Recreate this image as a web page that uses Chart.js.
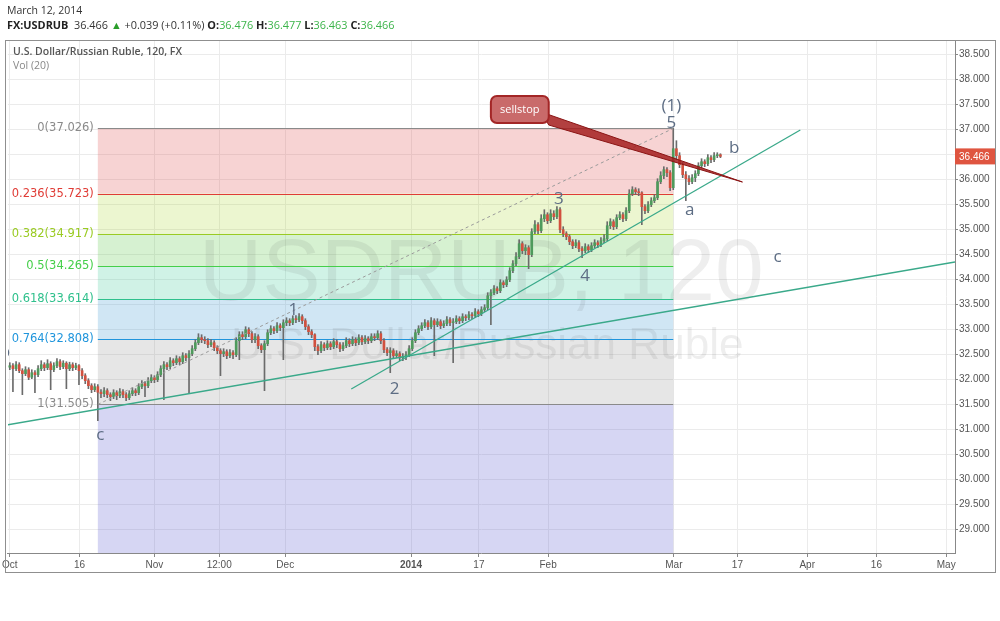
<!DOCTYPE html>
<html><head><meta charset="utf-8">
<script src="https://cdn.jsdelivr.net/npm/chart.js@4.4.1/dist/chart.umd.min.js"></script>
<style>
html,body{margin:0;padding:0;background:#fff;}
#wrap{position:relative;width:1000px;height:621px;overflow:hidden;}
#c{position:absolute;left:0;top:0;}
.hdr{position:absolute;left:7px;font-family:'Open Sans',sans-serif;font-size:10.5px;color:#333;white-space:nowrap;line-height:14px;}
.hdr b{font-weight:700;color:#222;}
.g{color:#3cb44a;}
</style></head><body>
<div id="wrap">
<canvas id="c" width="1000" height="621"></canvas>
<div class="hdr" style="top:3px">March 12, 2014</div>
<div class="hdr" style="top:18px;font-size:10.9px"><b>FX:USDRUB</b>&nbsp; 36.466 <span style="color:#2a9d2a">&#9650;</span> +0.039 (+0.11%) <b>O:</b><span class="g">36.476</span> <b>H:</b><span class="g">36.477</span> <b>L:</b><span class="g">36.463</span> <b>C:</b><span class="g">36.466</span></div>
</div>
<script>
// ---- data (bars of half a trading day, starting Oct 1 2013) ----
const firstOpen = 32.25;
const closes = [
32.28,32.22,32.30,32.18,32.12,32.20,32.05,32.14,32.10,32.22,
32.30,32.24,32.32,32.20,32.28,32.36,32.26,32.33,32.22,32.30,
32.24,32.28,32.18,32.08,31.98,31.88,31.80,31.86,
31.75,31.72,31.78,31.70,31.66,31.74,31.68,31.76,31.70,31.64,31.72,31.78,31.74,
31.86,31.92,31.88,31.98,32.04,32.00,32.10,
32.22,32.30,32.26,32.38,32.34,
32.42,32.36,32.48,32.44,32.52,
32.62,32.74,32.84,32.80,
32.78,32.70,32.74,32.64,
32.58,32.52,32.56,32.48,32.54,32.50,
32.78,32.90,32.86,33.00,
32.92,32.80,32.86,32.68,32.60,32.72,
32.94,33.02,32.98,33.08,33.04,33.14,
33.18,33.14,33.22,33.20,33.26,33.18,
33.06,32.96,32.90,
32.66,32.58,32.70,
32.64,32.72,32.66,32.76,32.70,32.62,32.68,32.78,32.72,32.80,32.74,32.84,32.76,32.82,32.78,32.86,32.84,32.92,
32.78,32.60,32.54,32.58,32.48,32.52,32.44,
32.46,32.50,32.62,
32.78,32.94,33.02,
33.08,33.14,33.06,33.18,33.10,33.16,33.08,33.12,33.20,33.14,
33.16,33.22,33.18,33.26,33.24,33.30,33.28,33.36,33.32,33.40,33.44,
33.68,33.74,33.82,33.78,
33.94,33.90,34.00,
34.18,34.32,34.46,
34.72,34.58,34.64,34.50,
34.96,35.10,34.98,35.22,35.30,
35.18,35.32,35.26,35.40,
35.00,34.92,34.86,
34.76,34.68,34.74,34.62,34.58,34.66,34.60,
34.68,34.74,34.70,34.78,34.82,
35.08,35.16,35.06,
35.24,35.30,35.22,35.38,
35.72,35.80,35.76,35.74,
35.46,35.38,
35.50,35.58,35.64,
35.96,36.08,36.20,36.14,
35.84,
36.62,
36.48,36.30,
36.10,36.02,35.96,36.04,36.12,
36.28,36.36,36.32,
36.44,36.40,36.48,36.50,36.466];
const highs = [
32.34,32.32,32.36,32.34,32.22,32.26,32.24,32.20,32.18,32.28,
32.38,32.34,32.40,32.36,32.34,32.42,32.40,32.38,32.36,32.35,
32.34,32.33,32.30,32.22,32.12,32.02,31.92,31.92,31.90,31.80,
31.84,31.82,31.74,31.80,31.78,31.82,31.80,31.74,31.78,31.84,
31.82,31.92,31.98,31.96,32.04,32.10,32.08,32.16,32.28,32.36,
32.34,32.44,32.42,32.48,32.46,32.54,32.52,32.58,32.68,32.80,
32.92,32.90,32.86,32.82,32.80,32.78,32.68,32.62,32.62,32.60,
32.60,32.58,32.84,32.96,32.96,33.06,33.04,32.96,32.92,32.90,
32.72,32.78,33.00,33.08,33.06,33.14,33.12,33.20,33.24,33.22,
33.28,33.28,33.32,33.30,33.22,33.10,33.00,32.92,32.70,32.76,
32.74,32.78,32.76,32.82,32.80,32.74,32.74,32.84,32.82,32.86,
32.84,32.90,32.88,32.88,32.86,32.92,32.92,32.98,32.96,32.82,
32.64,32.64,32.62,32.58,32.56,32.52,32.56,32.68,32.84,33.00,
33.08,33.14,33.20,33.18,33.24,33.22,33.22,33.20,33.18,33.26,
33.24,33.22,33.28,33.26,33.32,33.30,33.36,33.34,33.42,33.40,
33.46,33.50,33.74,33.80,33.88,33.86,34.00,33.98,34.06,34.24,
34.38,34.54,34.80,34.76,34.70,34.68,35.02,35.18,35.14,35.30,
35.40,35.34,35.40,35.38,35.46,35.44,35.06,34.96,34.90,34.80,
34.80,34.78,34.66,34.72,34.70,34.74,34.80,34.78,34.84,34.90,
35.16,35.22,35.20,35.30,35.36,35.34,35.44,35.80,35.86,35.84,
35.82,35.76,35.50,35.56,35.64,35.70,36.02,36.16,36.26,36.24,
36.18,37.03,36.78,36.54,36.34,36.16,36.08,36.10,36.18,36.34,
36.42,36.40,36.50,36.48,36.54,36.54,36.52];
const lows = [
32.20,31.76,32.18,32.14,31.70,32.08,32.00,32.02,31.74,32.06,
32.18,32.18,32.20,31.80,32.16,32.24,32.20,32.22,31.82,32.18,
32.18,32.20,31.90,32.02,31.92,31.82,31.74,31.76,31.18,31.64,
31.66,31.64,31.58,31.62,31.60,31.64,31.64,31.58,31.60,31.68,
31.68,31.70,31.82,31.66,31.84,31.94,31.94,31.96,32.06,31.60,
32.20,32.22,32.28,32.30,32.30,32.32,32.38,31.74,32.48,32.58,
32.70,32.74,32.72,32.64,32.66,32.58,32.52,32.08,32.46,32.42,
32.44,32.42,32.46,32.40,32.80,32.82,32.86,32.74,32.74,32.62,
32.54,31.78,32.68,32.90,32.92,32.94,32.98,32.40,33.08,33.08,
33.10,33.14,33.16,33.12,33.00,32.90,32.84,32.58,32.50,32.54,
32.58,32.60,32.60,32.62,32.64,32.56,32.58,32.64,32.66,32.68,
32.68,32.70,32.70,32.72,32.72,32.74,32.78,32.80,32.72,32.54,
32.48,32.14,32.42,32.44,32.38,32.38,32.40,32.46,32.58,32.74,
32.90,32.98,33.04,33.00,33.02,32.48,33.06,33.02,33.04,33.08,
33.08,32.34,33.12,33.12,33.14,33.18,33.20,33.22,33.24,33.26,
33.28,33.36,33.40,33.10,33.70,33.72,33.74,33.84,33.86,33.96,
34.14,34.28,34.42,34.52,34.50,34.22,34.46,34.92,34.92,34.94,
35.16,35.12,35.14,35.20,35.22,34.94,34.86,34.80,34.70,34.62,
34.64,34.56,34.44,34.54,34.54,34.56,34.64,34.64,34.66,34.74,
34.78,35.02,35.00,35.02,35.20,35.16,35.18,35.34,35.68,35.70,
35.68,35.10,35.32,35.34,35.46,35.54,35.60,35.92,36.02,36.06,
35.78,35.80,36.40,36.24,36.04,35.58,35.90,35.92,35.96,36.08,
36.24,36.26,36.28,36.34,36.36,36.44,36.44];
const barStep = 0.5;              // trading days per bar
const lastPrice = 36.466;

// x-axis ticks (trading-day index from Oct 1, 2013)
const xTickPos    = [0, 11.1, 23.0, 33.3, 43.8, 63.8, 74.6, 85.6, 105.6, 115.7, 126.8, 137.8, 148.9];
const xTickLabels = ['Oct','16','Nov','12:00','Dec','2014','17','Feb','Mar','17','Apr','16','May'];

// Fibonacci retracement (from low bar to high bar)
const fibStart = 14, fibEnd = 105.5;
const fibRatios = ['0','0.236','0.382','0.5','0.618','0.764','1'];
const fibValues = [37.026, 35.723, 34.917, 34.265, 33.614, 32.808, 31.505];

// trend lines [x0, v0, x1, v1]
const trendLong  = [-0.5, 31.094, 150.3, 34.354];
const trendSteep = [54.3, 31.814, 125.7, 36.994];
const fibDiag    = [fibStart, 31.505, fibEnd, 37.026];

// Elliott wave labels [text, x, value]
const waveLabels = [
  ['(1)', 105.2, 37.474], ['5', 105.2, 37.134], ['3', 87.3, 35.614], ['4', 91.5, 34.08],
  ['1', 45.1, 33.394], ['2', 61.2, 31.814], ['a', 108.1, 35.40], ['b', 115.2, 36.628],
  ['c', 122.1, 34.45], ['c', 14.4, 30.90], ['b', -0.75, 32.56]
];
// sellstop callout
const callout = {text:'sellstop', box:[76.5, 37.674, 85.7, 37.134], base:[[84.5, 37.354],[85.7, 37.094]], tip:[116.5, 35.954]};

// ---- build chart ----
const opens = [firstOpen].concat(closes.slice(0, -1));
const wickData = closes.map((c, i) => ({x: i * barStep, y: [lows[i], highs[i]]}));
const bodyData = closes.map((c, i) => ({x: i * barStep, y: [opens[i], c]}));
const bodyColors = closes.map((c, i) => c >= opens[i] ? '#4e9a5c' : '#d2503e');

const bandFills = ['rgba(222,80,80,0.25)','rgba(170,215,40,0.22)','rgba(90,200,70,0.25)',
  'rgba(60,200,150,0.24)','rgba(60,150,210,0.24)','rgba(128,128,128,0.2)','rgba(95,95,210,0.26)'];
const fibColors = ['#8a8a8a','#e03c36','#9acb22','#45cf4a','#2fc08c','#1f95dc','#8a8a8a'];

const overlay = {
  id: 'overlay',
  beforeDatasetsDraw(chart) {
    const {ctx, chartArea: a, scales: {x, y}} = chart;
    ctx.save();
    ctx.beginPath(); ctx.rect(a.left, a.top, a.right - a.left, a.bottom - a.top); ctx.clip();
    const x0 = x.getPixelForValue(fibStart), x1 = x.getPixelForValue(fibEnd);
    for (let k = 0; k < fibValues.length; k++) {
      const t = y.getPixelForValue(fibValues[k]);
      const b = k + 1 < fibValues.length ? y.getPixelForValue(fibValues[k + 1]) : a.bottom;
      ctx.fillStyle = bandFills[k];
      ctx.fillRect(x0, t, x1 - x0, b - t);
    }
    // watermark
    const cx = (a.left + a.right) / 2, cy = (a.top + a.bottom) / 2;
    ctx.fillStyle = 'rgba(70,70,70,0.09)';
    ctx.textAlign = 'center'; ctx.textBaseline = 'alphabetic';
    ctx.font = "100px 'Liberation Sans', Arial";
    let w = ctx.measureText('USDRUB, 120').width;
    ctx.font = (100 * 565 / w).toFixed(1) + "px 'Liberation Sans', Arial";
    ctx.fillText('USDRUB, 120', cx, cy + 3);
    ctx.font = "100px 'Liberation Sans', Arial";
    w = ctx.measureText('U.S. Dollar/Russian Ruble').width;
    ctx.font = (100 * 512 / w).toFixed(1) + "px 'Liberation Sans', Arial";
    ctx.fillText('U.S. Dollar/Russian Ruble', cx + 6, cy + 62);
    // fib lines + labels
    ctx.font = "11.5px 'DejaVu Sans'";
    ctx.textAlign = 'right';
    for (let k = 0; k < fibValues.length; k++) {
      const py = Math.round(y.getPixelForValue(fibValues[k])) + 0.5;
      ctx.strokeStyle = fibColors[k]; ctx.lineWidth = 1.2;
      ctx.beginPath(); ctx.moveTo(x0, py); ctx.lineTo(x1, py); ctx.stroke();
      ctx.fillStyle = fibColors[k];
      ctx.fillText(fibRatios[k] + '(' + fibValues[k].toFixed(3) + ')', x0 - 4, py + 2);
    }
    ctx.restore();
  },
  afterDatasetsDraw(chart) {
    const {ctx, chartArea: a, scales: {x, y}} = chart;
    const P = (px, v) => [x.getPixelForValue(px), y.getPixelForValue(v)];
    ctx.save();
    ctx.beginPath(); ctx.rect(a.left, a.top, a.right - a.left, a.bottom - a.top); ctx.clip();
    // dashed fib diagonal
    ctx.setLineDash([3, 3]); ctx.strokeStyle = '#9a9a9a'; ctx.lineWidth = 1;
    let p = P(fibDiag[0], fibDiag[1]), q = P(fibDiag[2], fibDiag[3]);
    ctx.beginPath(); ctx.moveTo(p[0], p[1]); ctx.lineTo(q[0], q[1]); ctx.stroke();
    ctx.setLineDash([]);
    // trend lines
    ctx.strokeStyle = '#3aa98a'; ctx.lineWidth = 1.3;
    for (const t of [trendLong, trendSteep]) {
      p = P(t[0], t[1]); q = P(t[2], t[3]);
      ctx.beginPath(); ctx.moveTo(p[0], p[1]); ctx.lineTo(q[0], q[1]); ctx.stroke();
    }
    // callout wedge
    const b1 = P(...callout.base[0]), b2 = P(...callout.base[1]), tp = P(...callout.tip);
    ctx.fillStyle = 'rgba(165,30,30,0.85)'; ctx.strokeStyle = '#8a1414'; ctx.lineWidth = 1;
    ctx.beginPath(); ctx.moveTo(b1[0], b1[1]); ctx.lineTo(tp[0], tp[1]); ctx.lineTo(b2[0], b2[1]); ctx.closePath();
    ctx.fill(); ctx.stroke();
    // callout box
    const bl = P(callout.box[0], callout.box[1]), br = P(callout.box[2], callout.box[3]);
    ctx.beginPath(); ctx.roundRect(bl[0], bl[1], br[0] - bl[0], br[1] - bl[1], 6);
    ctx.fillStyle = '#c96a6a'; ctx.fill();
    ctx.lineWidth = 2; ctx.strokeStyle = '#a32626'; ctx.stroke();
    ctx.fillStyle = '#ffffff'; ctx.font = "11px 'Open Sans'"; ctx.textAlign = 'center'; ctx.textBaseline = 'middle';
    ctx.fillText(callout.text, (bl[0] + br[0]) / 2, (bl[1] + br[1]) / 2);
    // wave labels
    ctx.fillStyle = '#5d6d84'; ctx.font = "17px 'Open Sans'";
    for (const [t, lx, lv] of waveLabels) {
      const pp = P(lx, lv);
      ctx.fillText(t, pp[0], pp[1]);
    }
    ctx.restore();
  },
  afterDraw(chart) {
    const {ctx, chartArea: a, scales: {y}} = chart;
    ctx.save();
    // legend texts
    ctx.textAlign = 'left'; ctx.textBaseline = 'middle';
    ctx.fillStyle = '#555'; ctx.font = "600 10.5px 'Open Sans'";
    ctx.fillText('U.S. Dollar/Russian Ruble, 120, FX', 13, 52);
    ctx.fillStyle = '#888'; ctx.font = "10.5px 'Open Sans'";
    ctx.fillText('Vol (20)', 13, 66);
    // last price tag
    const py = y.getPixelForValue(lastPrice);
    ctx.fillStyle = '#df5540';
    ctx.fillRect(a.right, py - 8, 40, 16);
    ctx.fillStyle = '#fff'; ctx.font = "10px 'Liberation Sans', Arial";
    ctx.fillText(lastPrice.toFixed(3), a.right + 4, py + 0.5);
    // outer frame
    ctx.strokeStyle = '#8f8f8f'; ctx.lineWidth = 1;
    ctx.strokeRect(5.5, 40.5, 990, 532);
    ctx.restore();
  }
};

Chart.defaults.font.family = "'Liberation Sans', Arial, sans-serif";
new Chart(document.getElementById('c'), {
  type: 'bar',
  data: {
    datasets: [
      {data: bodyData, backgroundColor: bodyColors, barThickness: 2, grouped: false, minBarLength: 1},
      {data: wickData, backgroundColor: '#6b6b6b', barThickness: 1, grouped: false}
    ]
  },
  options: {
    responsive: false, animation: false,
    layout: {padding: {left: 6, right: 5, top: 40, bottom: 49}},
    plugins: {legend: {display: false}, tooltip: {enabled: false}},
    scales: {
      x: {
        type: 'linear', position: 'bottom', min: -0.3, max: 150.3, offset: false,
        grid: {color: '#ebebeb', offset: false, tickLength: 4, tickColor: '#888'},
        border: {color: '#888'},
        afterBuildTicks: s => { s.ticks = xTickPos.map(v => ({value: v})); },
        afterFit: s => { s.height = 19; },
        ticks: {
          autoSkip: false, maxRotation: 0, padding: 2, color: '#555',
          font: c => ({size: 10, weight: xTickLabels[c.index] === '2014' ? 'bold' : 'normal'}),
          callback: (v, i) => xTickLabels[i]
        }
      },
      y: {
        type: 'linear', position: 'right', min: 28.534, max: 38.794,
        grid: {color: '#ebebeb', tickLength: 3, tickColor: '#888'},
        border: {color: '#888'},
        afterFit: s => { s.width = 40; },
        ticks: {stepSize: 0.5, includeBounds: false, padding: 1, color: '#555', font: {size: 10},
          callback: v => Number(v).toFixed(3)}
      }
    }
  },
  plugins: [overlay]
});
</script>
</body></html>
